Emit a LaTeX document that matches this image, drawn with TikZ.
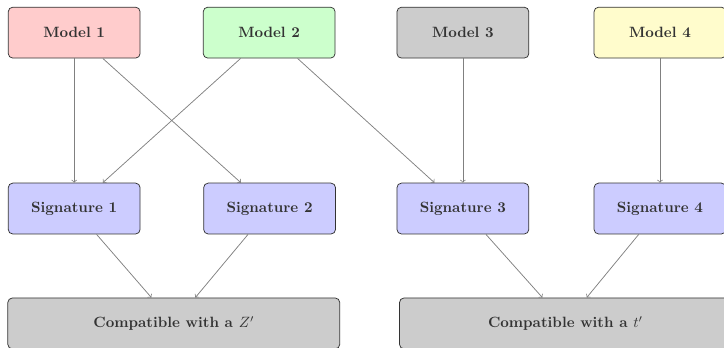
\documentclass[tikz,border=0pt]{standalone}
\usepackage{tikz}

\begin{document}
\begin{tikzpicture}[x=1.0cm,y=1.0cm]
        \tikzset{box/.style={draw=black!80, line width=0.5pt, rounded corners=3pt,
                             text=black!80, font=\bfseries,
                             minimum width=3.11cm, minimum height=1.2cm},
                 wide box/.style={box, fill=black!20, minimum width=7.83cm},
                 link/.style={draw=black!50, line width=0.5pt, ->}}

        \useasboundingbox (0,0) rectangle (17.08,8.19);

        \node[box, fill=red!20]    (m1) at (1.75,7.42)  {Model 1};
        \node[box, fill=green!20]  (m2) at (6.35,7.42)  {Model 2};
        \node[box, fill=black!20]  (m3) at (10.92,7.42) {Model 3};
        \node[box, fill=yellow!20] (m4) at (15.57,7.42) {Model 4};

        \node[box, fill=blue!20] (s1) at (1.75,3.27)  {Signature 1};
        \node[box, fill=blue!20] (s2) at (6.36,3.27)  {Signature 2};
        \node[box, fill=blue!20] (s3) at (10.92,3.27) {Signature 3};
        \node[box, fill=blue!20] (s4) at (15.57,3.27) {Signature 4};

        \node[wide box] (zp) at (4.10,0.56)  {Compatible with a $Z'$};
        \node[wide box] (tp) at (13.34,0.56) {Compatible with a $t'$};

        \draw[link] (m1) -- (s1);
        \draw[link] (m1) -- (s2);
        \draw[link] (m2) -- (s1);
        \draw[link] (m2) -- (s3);
        \draw[link] (m3) -- (s3);
        \draw[link] (m4) -- (s4);

        \draw[link] (s1) -- (zp);
        \draw[link] (s2) -- (zp);
        \draw[link] (s3) -- (tp);
        \draw[link] (s4) -- (tp);
    \end{tikzpicture}
\end{document}
